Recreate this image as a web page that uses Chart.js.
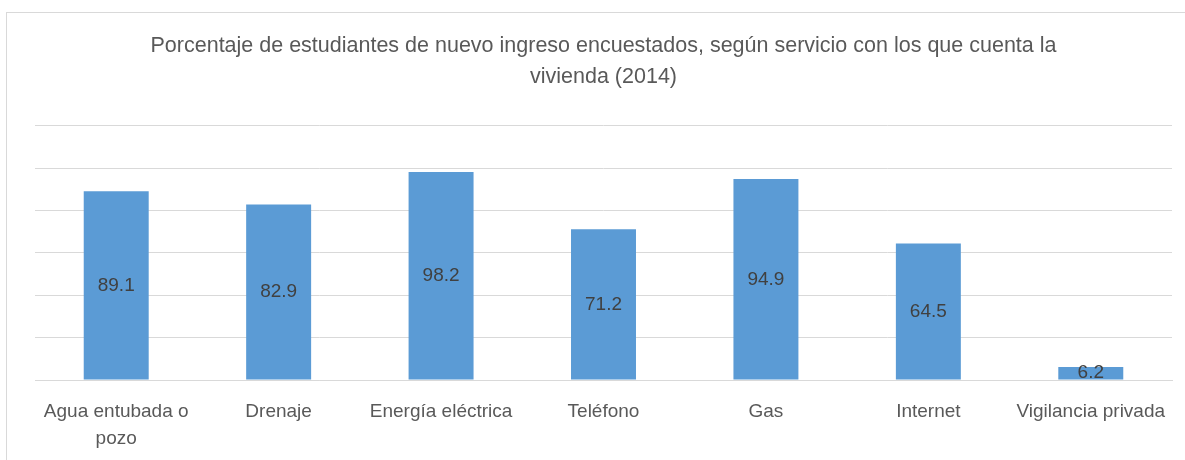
<!DOCTYPE html>
<html>
<head>
<meta charset="utf-8">
<script src="https://cdn.jsdelivr.net/npm/chart.js@4.4.1/dist/chart.umd.min.js"></script>
<style>
  body { margin: 0; background: #fff; overflow: hidden; }
  #frame { position: absolute; left: 6px; top: 12px; width: 1300px; height: 600px; border: 1px solid #d9d9d9; }
  #wrap { position: absolute; left: 0; top: 0; width: 1185px; height: 460px; }
</style>
</head>
<body>
<div id="frame"></div>
<div id="wrap"><canvas id="chart"></canvas></div>
<script>
const categories = [
  ['Agua entubada o', 'pozo'],
  'Drenaje',
  'Energía eléctrica',
  'Teléfono',
  'Gas',
  'Internet',
  'Vigilancia privada'
];
const percentages = [89.1, 82.9, 98.2, 71.2, 94.9, 64.5, 6.2];
const titleLines = [
  'Porcentaje de estudiantes de nuevo ingreso encuestados, según servicio con los que cuenta la',
  'vivienda (2014)'
];

const FONT = '"Liberation Sans", Arial, sans-serif';

// labels in the middle of each bar
const barLabels = {
  id: 'barLabels',
  afterDatasetsDraw(chart) {
    const ctx = chart.ctx;
    const meta = chart.getDatasetMeta(0);
    ctx.save();
    ctx.font = '19px ' + FONT;
    ctx.fillStyle = '#404040';
    ctx.textAlign = 'center';
    ctx.textBaseline = 'middle';
    meta.data.forEach((bar, i) => {
      const y = (bar.y + bar.base) / 2;
      ctx.fillText(percentages[i].toFixed(1), bar.x, y);
    });
    ctx.restore();
  }
};

new Chart(document.getElementById('chart'), {
  type: 'bar',
  data: {
    labels: categories,
    datasets: [{
      data: percentages,
      backgroundColor: '#5b9bd5',
      barPercentage: 0.4,
      categoryPercentage: 1.0
    }]
  },
  options: {
    responsive: true,
    maintainAspectRatio: false,
    animation: false,
    layout: { padding: { left: 35, right: 13, top: 0, bottom: -2 } },
    plugins: {
      legend: { display: false },
      tooltip: { enabled: false },
      title: {
        display: true,
        text: titleLines,
        fullSize: false,
        color: '#595959',
        font: { family: FONT, size: 21.5, weight: 'normal', lineHeight: 1.44 },
        padding: { top: 31, bottom: 33 }
      }
    },
    scales: {
      x: {
        grid: { display: false },
        border: { display: true, color: '#d9d9d9', width: 1 },
        ticks: {
          color: '#595959',
          font: { family: FONT, size: 19, lineHeight: 1.42 },
          maxRotation: 0,
          autoSkip: false,
          padding: 10
        }
      },
      y: {
        min: 0,
        max: 120,
        ticks: { display: false, stepSize: 20 },
        grid: { color: '#d9d9d9', drawTicks: false },
        border: { display: false }
      }
    }
  },
  plugins: [barLabels]
});
</script>
</body>
</html>
